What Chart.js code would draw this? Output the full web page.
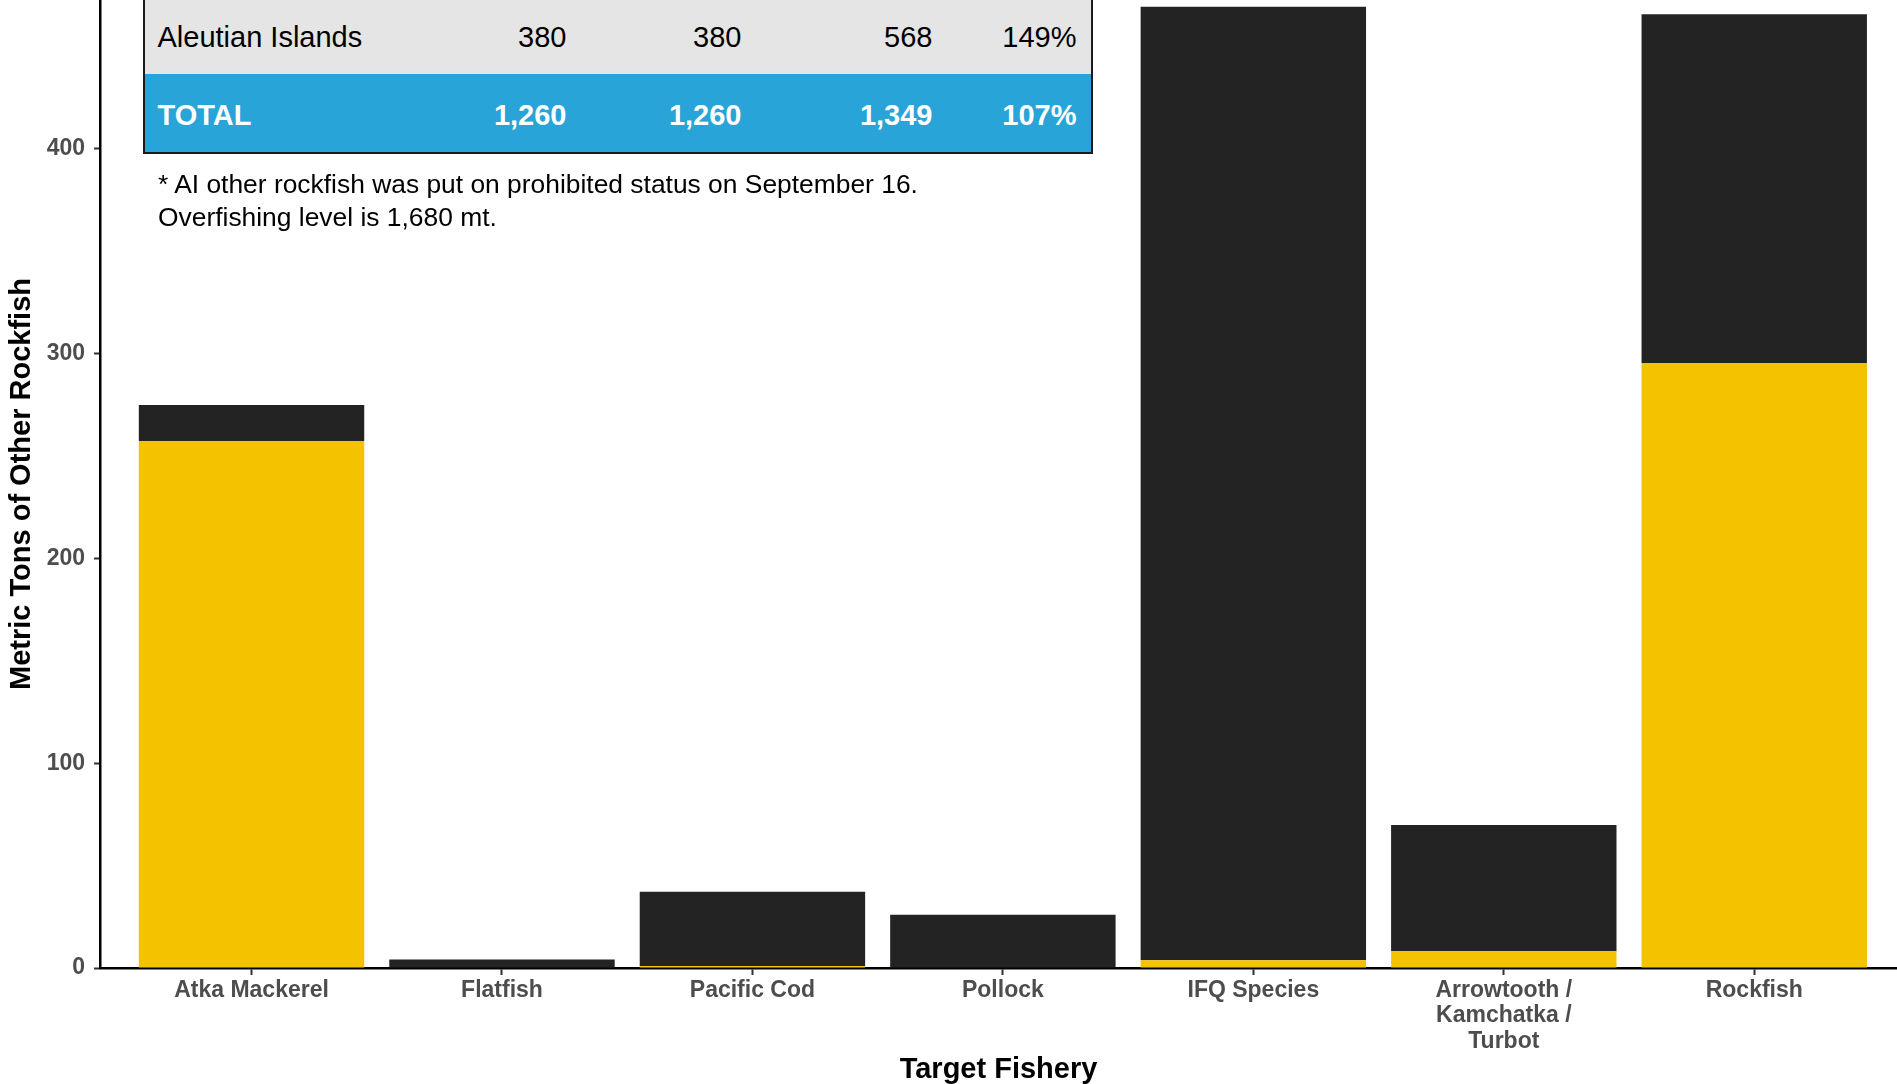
<!DOCTYPE html>
<html>
<head>
<meta charset="utf-8">
<script src="https://cdn.jsdelivr.net/npm/chart.js@4/dist/chart.umd.min.js"></script>
<style>
  html, body { margin: 0; padding: 0; background: #fff; overflow: hidden; }
  #wrap { position: relative; width: 1897px; height: 1084px; font-family: 'Liberation Sans', Arial, sans-serif; }
  canvas { position: absolute; left: 0; top: 0; }
  #tbl { position: absolute; left: 143px; top: -6px; width: 946px; border: 2.5px solid #1a1a1a; box-sizing: content-box; }
  .row { position: relative; height: 78px; font-size: 29px; }
  .row span { position: absolute; top: calc(50% + 2px); transform: translateY(-50%); white-space: nowrap; }
  .r0 { background: #e5e5e5; color: #000; }
  .r1 { background: #28a4d8; color: #fff; font-weight: bold; }
  #note { position: absolute; left: 158px; top: 168px; font-size: 26.4px; line-height: 32.5px; color: #000; white-space: nowrap; }
</style>
</head>
<body>
<div id="wrap">
  <canvas id="c" width="1897" height="1084"></canvas>
  <div id="tbl"></div>
  <div id="note"></div>
</div>
<script>
// ---- data ----
const categories = ["Atka Mackerel", "Flatfish", "Pacific Cod", "Pollock", "IFQ Species", "Arrowtooth / Kamchatka / Turbot", "Rockfish"];
const tickLabels = ["Atka Mackerel", "Flatfish", "Pacific Cod", "Pollock", "IFQ Species", ["Arrowtooth /", "Kamchatka /", "Turbot"], "Rockfish"];
const yellowValues = [257.3, 0, 1.0, 0, 3.8, 8.2, 295.4];
const blackValues = [17.6, 4.1, 36.2, 26.0, 465.6, 61.6, 170.4];
const yTickValues = [0, 100, 200, 300, 400];

const tableLabels = ["Aleutian Islands", "TOTAL"];
const tableCol1 = ["380", "1,260"];
const tableCol2 = ["380", "1,260"];
const tableCol3 = ["568", "1,349"];
const tableCol4 = ["149%", "107%"];
const noteLines = ["* AI other rockfish was put on prohibited status on September 16.", "Overfishing level is 1,680 mt."];

// ---- table overlay (real text) ----
const tbl = document.getElementById('tbl');
const colRight = [567, 742, 933, 1077]; // right edges in page px
const tblLeft = 145.5;
tableLabels.forEach((lab, r) => {
  const row = document.createElement('div');
  row.className = 'row r' + r;
  const s0 = document.createElement('span');
  s0.textContent = lab; s0.style.left = (158 - tblLeft) + 'px';
  row.appendChild(s0);
  [tableCol1, tableCol2, tableCol3, tableCol4].forEach((col, j) => {
    const s = document.createElement('span');
    s.textContent = col[r];
    s.style.right = (tblLeft + 946 - colRight[j]) + 'px';
    row.appendChild(s);
  });
  tbl.appendChild(row);
});
document.getElementById('note').innerHTML = noteLines.map(l => '<div>' + l + '</div>').join('');

// ---- chart ----
Chart.defaults.font.family = "'Liberation Sans', Arial, sans-serif";
const tickFont = { size: 23, weight: 'bold', lineHeight: 1.1 };
const titleFont = { size: 29, weight: 'bold', lineHeight: 1.1 };

new Chart(document.getElementById('c'), {
  type: 'bar',
  data: {
    datasets: [
      { label: 'Yellow group', data: yellowValues.map((v, i) => ({ x: i + 1, y: v })), backgroundColor: '#f3c300', borderWidth: 0 },
      { label: 'Black group', data: blackValues.map((v, i) => ({ x: i + 1, y: v })), backgroundColor: '#232323', borderWidth: 0 }
    ]
  },
  options: {
    responsive: false,
    animation: false,
    devicePixelRatio: 1,
    layout: { padding: 0 },
    plugins: { legend: { display: false }, tooltip: { enabled: false } },
    datasets: { bar: { barPercentage: 0.9, categoryPercentage: 1.0 } },
    scales: {
      x: {
        type: 'linear',
        stacked: true,
        offset: false,
        min: 0.395,
        max: 7.57,
        afterBuildTicks: s => { s.ticks = categories.map((_, i) => ({ value: i + 1 })); },
        afterFit: s => { s.height = 116; s.paddingLeft = 0; s.paddingRight = 0; },
        ticks: {
          autoSkip: false, maxRotation: 0, minRotation: 0,
          color: '#4d4d4d', font: tickFont, padding: 3,
          callback: v => tickLabels[Math.round(v) - 1]
        },
        grid: { offset: false, drawOnChartArea: false, drawTicks: true, tickLength: 7, tickWidth: 2, tickColor: '#333' },
        border: { display: true, color: '#000', width: 2.5 },
        title: { display: true, text: 'Target Fishery', color: '#000', font: { size: 29, weight: 'bold', lineHeight: 1.0 }, padding: { top: 0, bottom: 0 } }
      },
      y: {
        stacked: true,
        min: 0,
        max: 472.7,
        afterBuildTicks: s => { s.ticks = yTickValues.map(v => ({ value: v })); },
        afterFit: s => { s.width = 100; s.paddingTop = 0; s.paddingBottom = 0; },
        ticks: { color: '#4d4d4d', font: tickFont, padding: 9 },
        grid: { drawOnChartArea: false, drawTicks: true, tickLength: 6, tickWidth: 2, tickColor: '#333' },
        border: { display: true, color: '#000', width: 2.5 },
        title: { display: true, text: 'Metric Tons of Other Rockfish', color: '#000', font: titleFont, padding: { top: 6, bottom: 0 } }
      }
    }
  }
});
</script>
</body>
</html>
